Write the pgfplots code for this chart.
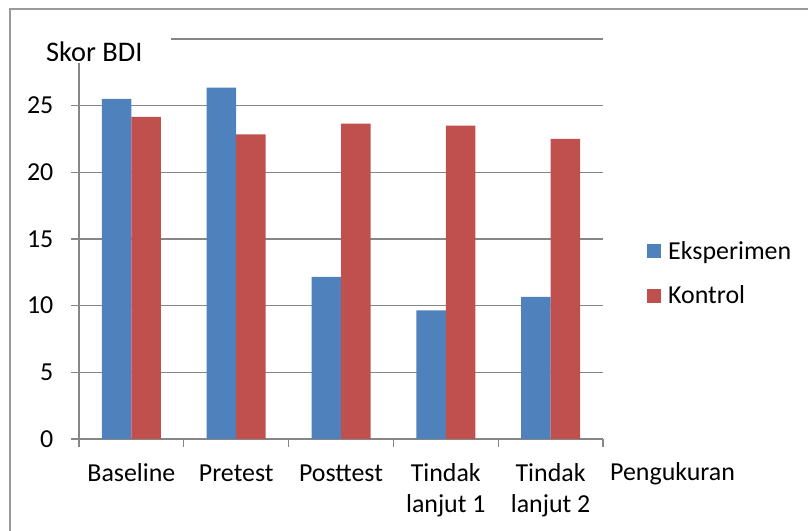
\documentclass[border=0pt]{standalone}
\usepackage{fontspec}
\setmainfont{Carlito}
\usepackage{pgfplots}
\pgfplotsset{compat=1.18}
\definecolor{eks}{HTML}{4F81BD}
\definecolor{kon}{HTML}{C0504D}
\definecolor{gridc}{HTML}{868686}
\definecolor{framec}{HTML}{9A9A9A}
\begin{document}
\begin{tikzpicture}[font=\fontsize{26}{32}\selectfont]
\path[use as bounding box] (0bp,0bp) rectangle (808bp,531bp);
\draw[framec, line width=2bp] (9.5bp,-5bp) -- (9.5bp,521.5bp) -- (820bp,521.5bp);
\begin{axis}[
  at={(79bp,92bp)}, anchor=south west,
  scale only axis, width=524bp, height=400bp,
  xmin=-0.5, xmax=4.5, ymin=0, ymax=30,
  axis x line=bottom, axis y line=left,
  axis line style={-, draw=gridc, line width=1.3bp},
  ybar=0pt, bar width=29.5bp,
  xtick={-0.5,0.5,1.5,2.5,3.5,4.5}, xticklabels={},
  extra x ticks={0,1,2,3,4},
  extra x tick labels={\strut Baseline,\strut Pretest,\strut Posttest,{\strut Tindak\\lanjut 1},{\strut Tindak\\lanjut 2}},
  extra x tick style={major tick length=0pt, grid=none},
  ytick={0,5,...,30}, yticklabels={0,5,10,15,20,25,{}},
  ymajorgrids=true,
  grid style={draw=gridc, line width=1.3bp},
  tick style={draw=gridc, line width=1.3bp},
  tick align=outside, major tick length=7.5bp,
  /pgf/number format/assume math mode=true,
  x tick label style={anchor=north, align=center, inner sep=0pt, yshift=-19.6bp},
  y tick label style={anchor=east, inner sep=0pt, xshift=-18bp},
  legend style={at={(1.084,0.414)}, anchor=west, draw=none, fill=none,
    inner sep=0pt, row sep=25bp, column sep=7bp, nodes={inner sep=0pt}},
  legend cell align=left,
]
\addplot[fill=eks, draw=none, legend image code/.code={\fill[eks] (0bp,-7bp) rectangle (14bp,7bp);}]
  coordinates {(0,25.5) (1,26.35) (2,12.15) (3,9.65) (4,10.65)};
\addplot[fill=kon, draw=none, legend image code/.code={\fill[kon] (0bp,-7bp) rectangle (14bp,7bp);}]
  coordinates {(0,24.15) (1,22.85) (2,23.65) (3,23.5) (4,22.5)};
\legend{Eksperimen,Kontrol}
\end{axis}
\fill[white] (20bp,468bp) rectangle (171bp,503bp);
\begin{scope}
\clip (0bp,470.5bp) rectangle (808bp,531bp);
\node[anchor=base west, inner sep=0pt, font=\fontsize{28.5}{32}\selectfont] at (46bp,469.3bp) {Skor BDI};
\end{scope}
\node[anchor=base west, inner sep=0pt] at (610bp,50bp) {Pengukuran};
\end{tikzpicture}
\end{document}
